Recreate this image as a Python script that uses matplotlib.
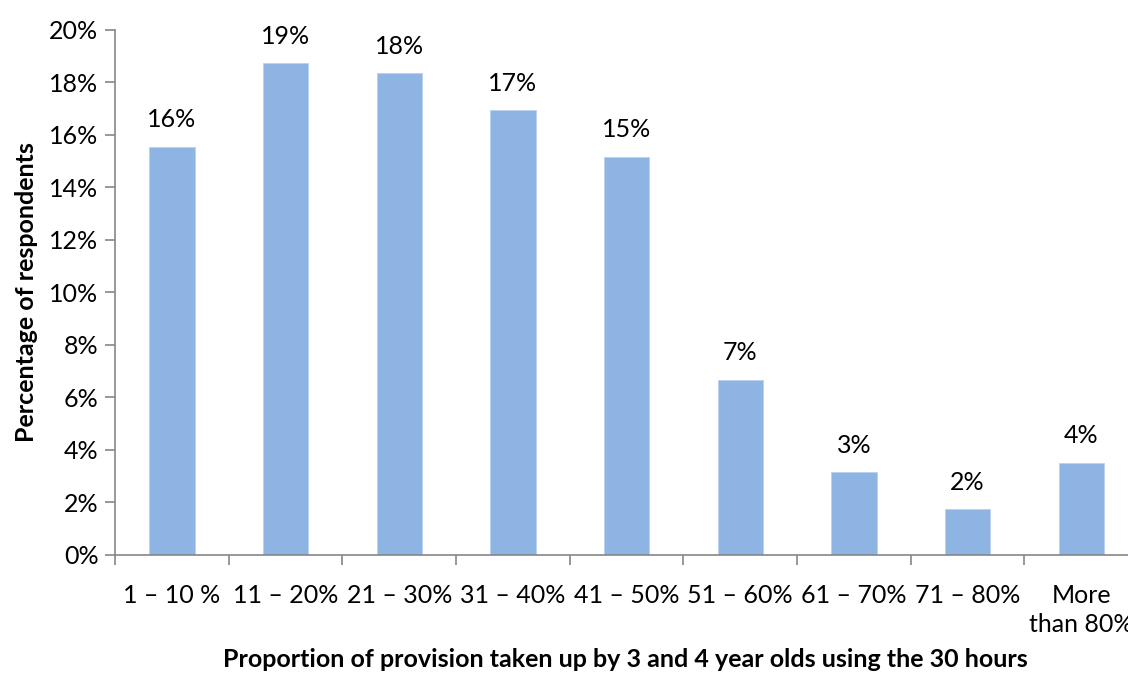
import numpy as np
import matplotlib
matplotlib.use("Agg")
import matplotlib.pyplot as plt
from matplotlib.ticker import FixedLocator, PercentFormatter

plt.rcParams["font.family"] = ["Lato", "DejaVu Sans"]

# Share of respondents by proportion of provision taken up (30 hours)
categories = ["1 \u2013 10 %", "11 \u2013 20%", "21 \u2013 30%", "31 \u2013 40%", "41 \u2013 50%",
              "51 \u2013 60%", "61 \u2013 70%", "71 \u2013 80%", "More\nthan 80%"]
shares = [15.55, 18.73, 18.36, 16.95, 15.17, 6.68, 3.16, 1.74, 3.52]

bar_color = "#8EB4E3"
axis_color = "#868686"
fs = 18

fig = plt.figure(figsize=(11.28, 6.74), dpi=100)
ax = fig.add_axes([0.102, 0.1766, 0.907, 0.779])

x = np.arange(len(categories))
bars = ax.bar(x, shares, width=0.40, color=bar_color, edgecolor="#B9D0EE", linewidth=0.6)

# value labels above each bar
for b, v in zip(bars, shares):
    ax.annotate(f"{v:.0f}%", (b.get_x() + b.get_width() / 2, v),
                xytext=(0, 11), textcoords="offset points",
                ha="center", va="bottom", fontsize=fs)

ax.set_xlim(-0.5, len(categories) - 0.5)
ax.set_ylim(0, 20)
ax.set_yticks(np.arange(0, 21, 2))
ax.yaxis.set_major_formatter(PercentFormatter(decimals=0))

ax.set_xticks(x)
ax.set_xticklabels(categories, linespacing=1.3)
ax.xaxis.set_minor_locator(FixedLocator(np.arange(-0.5, len(categories), 1.0)))
ax.tick_params(axis="x", which="major", length=0, pad=21, labelsize=fs)
ax.tick_params(axis="x", which="minor", length=7, width=1.2, color=axis_color)
ax.tick_params(axis="y", length=7, width=1.2, color=axis_color, labelsize=fs, pad=5)

for side in ["top", "right"]:
    ax.spines[side].set_visible(False)
for side in ["left", "bottom"]:
    ax.spines[side].set_color(axis_color)
    ax.spines[side].set_linewidth(1.2)

ax.set_ylabel("Percentage of respondents", fontsize=fs, fontweight="bold", labelpad=8)
fig.text(0.554, 0.005, "Proportion of provision taken up by 3 and 4 year olds using the 30 hours",
         ha="center", va="bottom", fontsize=fs, fontweight="bold")

fig.savefig("out.png", dpi=100)
